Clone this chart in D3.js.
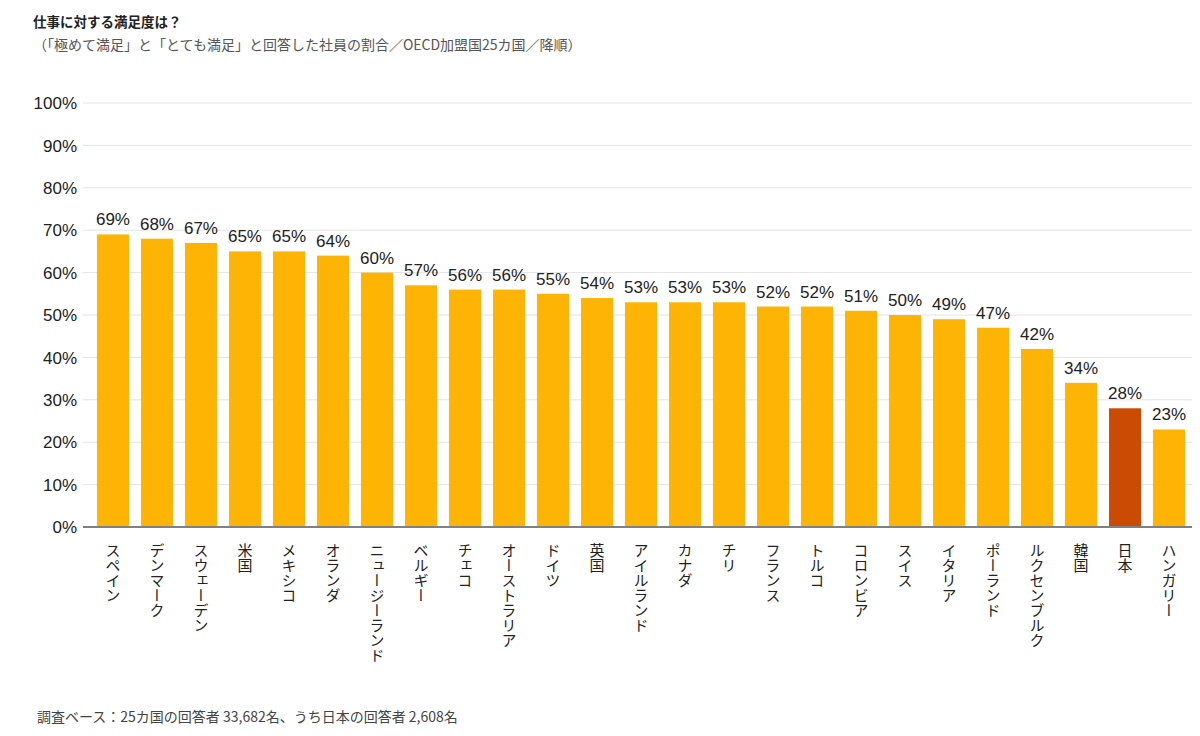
<!DOCTYPE html>
<html>
<head>
<meta charset="utf-8">
<script src="https://cdn.jsdelivr.net/npm/d3@7"></script>
<style>
  html, body { margin: 0; padding: 0; background: #fff; }
  #container { width: 1200px; height: 736px; }
</style>
</head>
<body>
<div id="container"></div>
<script>
// --- Data ---
const countries = [
  "スペイン", "デンマーク", "スウェーデン", "米国", "メキシコ", "オランダ",
  "ニュージーランド", "ベルギー", "チェコ", "オーストラリア", "ドイツ", "英国",
  "アイルランド", "カナダ", "チリ", "フランス", "トルコ", "コロンビア",
  "スイス", "イタリア", "ポーランド", "ルクセンブルク", "韓国", "日本", "ハンガリー",
];
const values = [
  69, 68, 67, 65, 65, 64, 60, 57, 56, 56, 55, 54, 53, 53, 53,
  52, 52, 51, 50, 49, 47, 42, 34, 28, 23,
];
const highlight = "日本";
const yTicks = [0, 10, 20, 30, 40, 50, 60, 70, 80, 90, 100];

const data = countries.map((c, i) => ({ c, v: values[i] }));

// --- Layout ---
const width = 1200, height = 736;
const plot = { left: 83, right: 1192, top: 103, bottom: 527 };
const font = "'Liberation Sans', Arial, 'Noto Sans CJK JP', sans-serif";
const jpFont = "'Noto Sans CJK JP', sans-serif";

const svg = d3.select("#container").append("svg")
  .attr("width", width).attr("height", height)
  .style("font-family", font);

const x = d3.scaleBand().domain(countries).range([91, 1191])
  .paddingInner(0.273).paddingOuter(0.136);
const y = d3.scaleLinear().domain([0, 100]).range([plot.bottom, plot.top]);

// --- Gridlines + y labels ---
const yg = svg.append("g");
yg.selectAll("line").data(yTicks.filter(d => d > 0)).join("line")
  .attr("x1", plot.left).attr("x2", plot.right)
  .attr("y1", d => y(d)).attr("y2", d => y(d))
  .attr("stroke", "#e4e4e4").attr("stroke-width", 1);
yg.selectAll("text").data(yTicks).join("text")
  .attr("x", 77).attr("y", d => y(d)).attr("dy", "0.36em")
  .attr("text-anchor", "end").attr("fill", "#222")
  .style("font-size", "17px")
  .text(d => `${d}%`);

// --- Bars ---
svg.append("g").selectAll("rect").data(data).join("rect")
  .attr("x", d => x(d.c)).attr("width", x.bandwidth())
  .attr("y", d => y(d.v)).attr("height", d => y(0) - y(d.v))
  .attr("fill", d => d.c === highlight ? "#cb4b04" : "#fdb404");

// --- Value labels ---
svg.append("g").selectAll("text").data(data).join("text")
  .attr("x", d => x(d.c) + x.bandwidth() / 2)
  .attr("y", d => y(d.v) - 9)
  .attr("text-anchor", "middle").attr("fill", "#222")
  .style("font-size", "17px")
  .text(d => `${d.v}%`);

// --- Baseline ---
svg.append("line")
  .attr("x1", plot.left).attr("x2", plot.right)
  .attr("y1", y(0)).attr("y2", y(0))
  .attr("stroke", "#808080").attr("stroke-width", 2);

// --- Category labels (vertical) ---
svg.append("g").selectAll("text").data(data).join("text")
  .attr("x", d => x(d.c) + x.bandwidth() / 2)
  .attr("y", 543)
  .style("writing-mode", "vertical-rl")
  .style("font-family", jpFont)
  .style("font-size", "15px")
  .attr("fill", "#222")
  .text(d => d.c);

// --- Title, subtitle, footer ---
svg.append("text")
  .attr("x", 33).attr("y", 27)
  .style("font-family", jpFont).style("font-size", "13.5px").style("font-weight", "700")
  .attr("fill", "#222")
  .text("仕事に対する満足度は？");

svg.append("text")
  .attr("x", 33).attr("y", 50)
  .style("font-family", jpFont).style("font-size", "14px")
  .attr("fill", "#555")
  .text("（「極めて満足」と「とても満足」と回答した社員の割合／OECD加盟国25カ国／降順）");

svg.append("text")
  .attr("x", 37).attr("y", 722)
  .style("font-family", jpFont).style("font-size", "14px")
  .attr("fill", "#444")
  .text("調査ベース：25カ国の回答者 33,682名、うち日本の回答者 2,608名");
</script>
</body>
</html>
